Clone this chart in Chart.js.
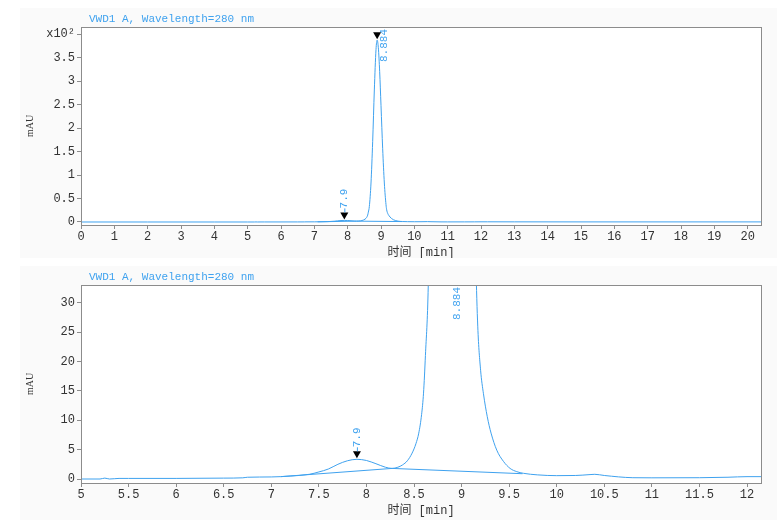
<!DOCTYPE html>
<html lang="zh">
<head>
  <meta charset="UTF-8">
  <title>VWD1 A, Wavelength=280 nm</title>
  <script src="https://cdn.jsdelivr.net/npm/chart.js"></script>
  <style>
    body { margin: 0; background: #fff; }
    canvas { position: absolute; left: 0; }
    #topChart { top: 0; }
    #bottomChart { top: 258px; }
  </style>
</head>
<body>
  <canvas id="topChart" width="777" height="262"></canvas>
  <canvas id="bottomChart" width="777" height="262"></canvas>

  <script>
    // signal trace (time in min, response in mAU)
    const time = [0, 2, 4, 5, 5.2, 5.25, 5.3, 5.4, 5.5, 6, 6.5, 6.7, 6.75, 7, 7.2, 7.4, 7.5, 7.6, 7.7, 7.8,
      7.9, 8, 8.1, 8.2, 8.27, 8.33, 8.38, 8.43, 8.48, 8.52, 8.55, 8.58, 8.6, 8.62, 8.65, 8.7, 8.75, 8.8, 8.85,
      8.884, 8.92, 8.96, 9, 9.05, 9.1, 9.15, 9.17, 9.2, 9.23, 9.27, 9.31, 9.37, 9.44, 9.51, 9.58, 9.65, 9.8,
      10, 10.2, 10.35, 10.4, 10.5, 10.8, 11, 11.5, 11.8, 12, 12.2, 13, 15, 18, 20.4];
    const signal = [0, 0, 0, 0, 0, 0.15, 0, 0.1, 0.1, 0.1, 0.15, 0.2, 0.3, 0.35, 0.5, 0.8, 1.2, 1.7, 2.5, 3.1,
      3.35, 3.15, 2.6, 2.0, 1.8, 2.0, 2.4, 3.1, 4.4, 6.0, 7.8, 11, 14.6, 21, 33, 83, 171, 281, 367,
      387, 371, 320, 248, 156, 83, 37, 26, 18.5, 14.5, 10.6, 7.8, 4.9, 3.0, 1.8, 1.25, 0.97, 0.7,
      0.57, 0.6, 0.75, 0.8, 0.6, 0.22, 0.2, 0.22, 0.3, 0.4, 0.4, 0.3, 0.2, 0.2, 0.2];

    // integration baseline
    const baseTime = [7.1, 8.27, 9.64];
    const baseValue = [0.4, 1.8, 0.9];

    // peaks
    const peakTimes = [7.9, 8.884];
    const peakHeights = [3.35, 387];
    const peakNames = ['7.9', '8.884'];

    // ticks
    const topXTicks = [0, 1, 2, 3, 4, 5, 6, 7, 8, 9, 10, 11, 12, 13, 14, 15, 16, 17, 18, 19, 20];
    const topYTicks = [0, 50, 100, 150, 200, 250, 300, 350, 400];
    const bottomXTicks = [5, 5.5, 6, 6.5, 7, 7.5, 8, 8.5, 9, 9.5, 10, 10.5, 11, 11.5, 12];
    const bottomYTicks = [0, 5, 10, 15, 20, 25, 30];

    const titleText = 'VWD1 A, Wavelength=280 nm';
    const blue = '#3fa2ef';
    const axisGray = '#8c8c8c';
    const mono = "'Liberation Mono', 'DejaVu Sans Mono', monospace";

    const pts = (xs, ys) => xs.map((v, i) => ({ x: v, y: ys[i] }));

    // background, plot frame and title
    const framePlugin = {
      id: 'frame',
      beforeDraw(chart) {
        const { ctx, chartArea: a } = chart;
        ctx.save();
        ctx.fillStyle = '#fff';
        ctx.fillRect(0, 0, chart.width, chart.height);
        ctx.fillStyle = '#fafafa';
        ctx.fillRect(20, 8, chart.width - 20, chart.height - 8);
        ctx.fillStyle = '#fff';
        ctx.fillRect(a.left, a.top, a.right - a.left, a.bottom - a.top);
        ctx.restore();
      },
      afterDraw(chart) {
        const { ctx, chartArea: a } = chart;
        ctx.save();
        ctx.strokeStyle = axisGray;
        ctx.lineWidth = 1;
        ctx.strokeRect(a.left + 0.5, a.top + 0.5, a.right - a.left, a.bottom - a.top);
        ctx.fillStyle = blue;
        ctx.font = '11px ' + mono;
        ctx.textAlign = 'left';
        ctx.textBaseline = 'alphabetic';
        ctx.fillText(titleText, a.left + 8, a.top - 5);
        ctx.restore();
      }
    };

    // peak markers and retention time labels
    const peakPlugin = {
      id: 'peaks',
      afterDatasetsDraw(chart) {
        const { ctx, chartArea: a, scales: { x, y } } = chart;
        ctx.save();
        ctx.beginPath();
        ctx.rect(a.left, a.top, a.right - a.left, a.bottom - a.top);
        ctx.clip();
        ctx.font = '11px ' + mono;
        peakTimes.forEach((t, i) => {
          const px = x.getPixelForValue(t);
          const py = y.getPixelForValue(peakHeights[i]);
          const label = peakNames[i];
          const len = ctx.measureText(label).width;
          if (px < a.left || px > a.right) return;
          if (py > a.top + 8) {
            ctx.fillStyle = '#000';
            ctx.beginPath();
            ctx.moveTo(px - 4, py - 8);
            ctx.lineTo(px + 4, py - 8);
            ctx.lineTo(px, py - 1);
            ctx.closePath();
            ctx.fill();
          }
          let tx = px;
          let tb = py - 12;
          if (tb - len < a.top + 2) {
            tx = px + 7;
            tb = a.top + 2 + len;
          } else {
            ctx.strokeStyle = blue;
            ctx.beginPath();
            ctx.moveTo(px + 0.5, py - 8);
            ctx.lineTo(px + 0.5, py - 12);
            ctx.stroke();
          }
          ctx.save();
          ctx.translate(tx, tb);
          ctx.rotate(-Math.PI / 2);
          ctx.fillStyle = blue;
          ctx.textAlign = 'left';
          ctx.textBaseline = 'middle';
          ctx.fillText(label, 0, 0);
          ctx.restore();
        });
        ctx.restore();
      }
    };

    function makeChart(id, xMin, xMax, yMin, yMax, xTicks, yTicks, yLabel) {
      return new Chart(document.getElementById(id), {
        type: 'scatter',
        data: {
          datasets: [
            { data: pts(time, signal), showLine: true, borderColor: blue, borderWidth: 1, pointRadius: 0, cubicInterpolationMode: 'monotone' },
            { data: pts(baseTime, baseValue), showLine: true, borderColor: blue, borderWidth: 1, pointRadius: 0 }
          ]
        },
        options: {
          responsive: false,
          animation: false,
          layout: { padding: { left: 20, right: 16, top: 27, bottom: 0 } },
          plugins: { legend: { display: false }, tooltip: { enabled: false } },
          scales: {
            x: {
              type: 'linear', min: xMin, max: xMax,
              afterBuildTicks: s => { s.ticks = xTicks.map(v => ({ value: v })); },
              afterFit: s => { s.height = 37; },
              grid: { drawOnChartArea: false, drawTicks: true, tickLength: 4, color: axisGray },
              border: { color: axisGray },
              ticks: { color: '#333', font: { family: mono, size: 12 }, padding: 1, maxRotation: 0, autoSkip: false, callback: v => String(v) },
              title: { display: true, text: '时间 [min]', color: '#333', font: { family: mono + ", 'Noto Sans CJK SC'", size: 12 }, padding: { top: 0, bottom: 2 } }
            },
            y: {
              type: 'linear', min: yMin, max: yMax,
              afterBuildTicks: s => { s.ticks = yTicks.map(v => ({ value: v })); },
              afterFit: s => { s.width = 61; },
              grid: { drawOnChartArea: false, drawTicks: true, tickLength: 4, color: axisGray },
              border: { color: axisGray },
              ticks: { color: '#333', font: { family: mono, size: 12 }, padding: 2, autoSkip: false, callback: yLabel },
              title: { display: true, text: 'mAU', color: '#333', font: { family: "'Liberation Serif', serif", size: 10 }, padding: { top: 4, bottom: 0 } }
            }
          }
        },
        plugins: [framePlugin, peakPlugin]
      });
    }

    makeChart('topChart', 0, 20.4, -6.4, 415, topXTicks, topYTicks,
      v => v === 400 ? 'x10²' : String(v / 100));
    makeChart('bottomChart', 5, 12.147, -0.68, 33, bottomXTicks, bottomYTicks,
      v => String(v));
  </script>
</body>
</html>
